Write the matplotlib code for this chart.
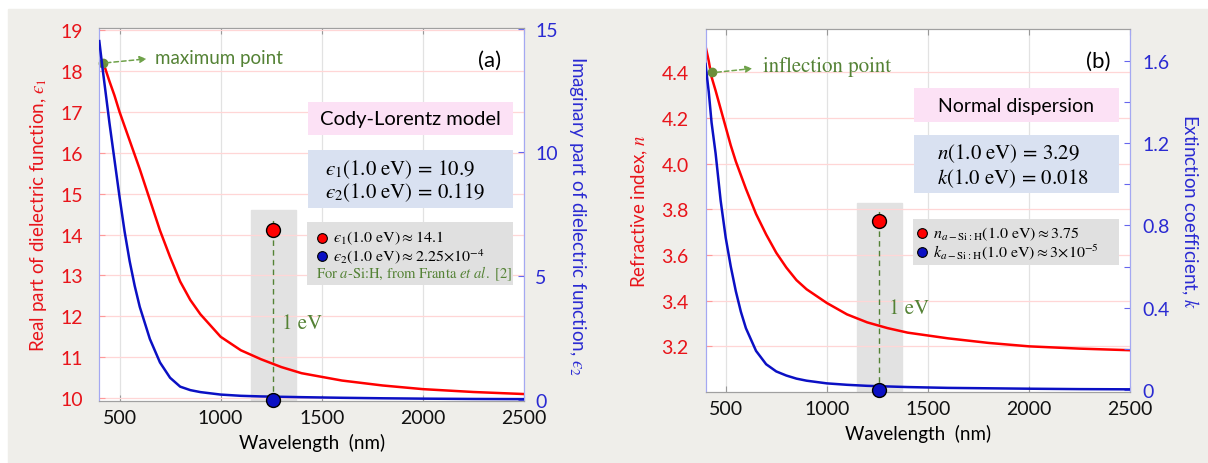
import numpy as np
import matplotlib
matplotlib.use('Agg')
import matplotlib.pyplot as plt
from matplotlib.patches import Rectangle
from matplotlib.ticker import FormatStrFormatter

plt.rcParams['font.family'] = ['Lato', 'DejaVu Sans']
plt.rcParams['mathtext.fontset'] = 'stix'

# ---- data ----
wl = [400, 416, 430, 450, 475, 500, 525, 550, 575, 600, 650, 700, 750, 800, 850,
      900, 1000, 1100, 1200, 1300, 1400, 1600, 1800, 2000, 2250, 2500]
eps1 = [18.1, 18.2, 18.05, 17.75, 17.4, 17.0, 16.65, 16.3, 15.95, 15.6, 14.85, 14.1, 13.45,
        12.85, 12.4, 12.05, 11.5, 11.17, 10.95, 10.76, 10.61, 10.43, 10.31, 10.22, 10.15, 10.1]
eps2 = [14.5, 13.4, 12.5, 11.2, 9.7, 8.2, 6.8, 5.6, 4.6, 3.75, 2.45, 1.5, 0.88, 0.52, 0.38,
        0.3, 0.2, 0.15, 0.125, 0.11, 0.095, 0.07, 0.05, 0.035, 0.022, 0.015]
n_idx = [4.515, 4.45, 4.38, 4.32, 4.24, 4.16, 4.08, 4.01, 3.95, 3.89, 3.78, 3.69, 3.61,
         3.545, 3.49, 3.45, 3.39, 3.34, 3.305, 3.28, 3.26, 3.235, 3.215, 3.20, 3.19, 3.183]
k_ext = [1.585, 1.45, 1.3, 1.15, 0.92, 0.74, 0.6, 0.48, 0.38, 0.30, 0.19, 0.125, 0.09,
         0.07, 0.055, 0.045, 0.032, 0.025, 0.02, 0.017, 0.014, 0.01, 0.008, 0.006, 0.004, 0.003]

wl_1ev = 1257
span_1ev = (1150, 1372)
ref_a = (14.1, 2.25e-4)     # Franta a-Si:H eps1, eps2
ref_b = (3.75, 3e-5)        # a-Si:H n, k
max_pt = (416, 18.2)
infl_pt = (434, 4.4)

RED = '#ff0000'
BLUE = '#0b10c4'
RED_T = '#e8141a'
BLUE_T = '#2a2ad2'
GREEN = '#548235'
EPS = 'ϵ'

fig = plt.figure(figsize=(12.08, 4.64), dpi=100)
fig.patches.append(Rectangle((8 / 1208, 0), 1, 1 - 10 / 464, transform=fig.transFigure,
                             color='#efeeea', zorder=-10))


def panel(rect, y1, y2, ylim1, ylim2, yt1, yt2, yt2_lab, ylab1, ylab2, lp1, lp2, rlp):
    ax = fig.add_axes(rect)
    ax.set_facecolor('white')
    ax2 = ax.twinx()
    ax.plot(wl, y1, color=RED, lw=1.8, zorder=3)
    ax2.plot(wl, y2, color=BLUE, lw=1.8, zorder=3)
    ax.set_xlim(400, 2500)
    ax.set_ylim(*ylim1)
    ax2.set_ylim(*ylim2)
    ax.set_xticks([500, 1000, 1500, 2000, 2500])
    ax.set_yticks(yt1)
    ax2.set_yticks(yt2)
    ax2.set_yticklabels(yt2_lab)
    ax.grid(axis='y', color='#ffd6d6', lw=0.9)
    ax.grid(axis='x', color='#e2e2e2', lw=0.9)
    ax.tick_params(axis='x', direction='in', top=True, color='#999999', length=4,
                   labelsize=14, pad=6, labelcolor='#111111')
    ax.tick_params(axis='y', direction='in', color='#ff9999', length=4, labelsize=14,
                   labelcolor=RED_T, pad=lp1)
    ax2.tick_params(axis='y', direction='in', color='#6666ee', length=4, labelsize=14,
                    labelcolor=BLUE_T, pad=lp2)
    for a in (ax, ax2):
        a.spines['left'].set_color('#a4a8f2')
        a.spines['right'].set_color('#a4a8f2')
        a.spines['top'].set_color('#a0a0a0')
        a.spines['bottom'].set_color('#a0a0a0')
    ax.set_xlabel('Wavelength  (nm)', fontsize=13.5, labelpad=5)
    ax.set_ylabel(ylab1, color=RED_T, fontsize=13.5, labelpad=8)
    ax2.set_ylabel(ylab2, color=BLUE_T, fontsize=13.5, rotation=270, labelpad=rlp)
    return ax, ax2


def box(ax, x0, x1, y0, y1, color):
    ax.add_patch(Rectangle((x0, y0), x1 - x0, y1 - y0, transform=ax.transAxes,
                           facecolor=color, edgecolor='none', zorder=5))


def one_ev(ax, ax2, span_top, line_top, ref1, ref2, lab_xy):
    ax.axvspan(*span_1ev, ymin=0, ymax=span_top, color='#e2e2e2', zorder=1)
    ax.axvline(wl_1ev, ymin=0, ymax=line_top, color=GREEN, lw=1, ls=(0, (4, 3)), zorder=2)
    ax.plot(wl_1ev, ref1, 'o', ms=10, mfc=RED, mec='k', mew=1, zorder=6)
    ax2.plot(wl_1ev, ref2, 'o', ms=10, mfc=BLUE, mec='k', mew=1, zorder=6, clip_on=False)
    ax.text(lab_xy[0], lab_xy[1], '1 eV', transform=ax.transAxes, color=GREEN,
            fontsize=15, family='STIXGeneral', va='center', zorder=6)


# ---------------- panel (a) ----------------
axa, axa2 = panel([99.3 / 1208, 1 - 402 / 464, 424.7 / 1208, 373 / 464],
                  eps1, eps2, (9.93, 19.05), (-0.06, 15.03),
                  range(10, 20), [0, 5, 10, 15], ['0', '5', '10', '15'],
                  r'Real part of dielectric function, $' + EPS + '_1$',
                  r'Imaginary part of dielectric function, $' + EPS + '_2$', 12, 8, 22)
one_ev(axa, axa2, 0.512, 0.493, ref_a[0], ref_a[1], (0.43, 0.21))

axa.plot(*max_pt, 'o', ms=6, color='#6b8e3a', zorder=7, clip_on=False)
axa.annotate('', xy=(0.118, 0.918), xytext=(0.01, 0.906), xycoords='axes fraction',
             arrowprops=dict(arrowstyle='-|>', color='#6fa24a', lw=1.1, ls=(0, (3, 2)),
                             mutation_scale=10), zorder=7)
axa.text(0.13, 0.92, 'maximum point', transform=axa.transAxes, color=GREEN,
         fontsize=13.5, va='center')
axa.text(0.918, 0.915, '(a)', transform=axa.transAxes, fontsize=16, ha='center',
         va='center')

box(axa2, 0.491, 0.974, 0.713, 0.8016, '#fce1f5')
axa2.text(0.7326, 0.757, 'Cody-Lorentz model', transform=axa2.transAxes, fontsize=14.5,
          ha='center', va='center', zorder=6)
box(axa2, 0.491, 0.974, 0.5166, 0.6737, '#d9e1f1')
axa2.text(0.531, 0.624, '$' + EPS + r'_1(1.0\ \mathrm{eV})\, =\, 10.9$',
          transform=axa2.transAxes, fontsize=15, va='center', zorder=6)
axa2.text(0.531, 0.561, '$' + EPS + r'_2(1.0\ \mathrm{eV})\, =\, 0.119$',
          transform=axa2.transAxes, fontsize=15, va='center', zorder=6)
box(axa2, 0.489, 0.974, 0.311, 0.479, '#e0e0e0')
axa2.plot(0.524, 0.438, 'o', ms=7, mfc=RED, mec='k', mew=0.8, transform=axa2.transAxes,
          zorder=6)
axa2.plot(0.524, 0.389, 'o', ms=7, mfc=BLUE, mec='k', mew=0.8, transform=axa2.transAxes,
          zorder=6)
axa2.text(0.55, 0.438, '$' + EPS + r'_1(1.0\ \mathrm{eV}) \approx 14.1$',
          transform=axa2.transAxes, fontsize=11.5, va='center', zorder=6)
axa2.text(0.55, 0.389, '$' + EPS + r'_2(1.0\ \mathrm{eV}) \approx 2.25{\times}10^{-4}$',
          transform=axa2.transAxes, fontsize=11.5, va='center', zorder=6)
axa2.text(0.51, 0.344, r'For $a$-Si:H, from Franta $et$ $al.$ [2]', transform=axa2.transAxes,
          fontsize=10.5, va='center', color=GREEN, family='STIXGeneral', zorder=6)

# ---------------- panel (b) ----------------
axb, axb2 = panel([705.5 / 1208, 1 - 393 / 464, 424.5 / 1208, 363 / 464],
                  n_idx, k_ext, (3.0, 4.59), (-0.01, 1.755),
                  [3.2, 3.4, 3.6, 3.8, 4.0, 4.2, 4.4], np.arange(0, 1.61, 0.2),
                  ['0', '', '0.4', '', '0.8', '', '1.2', '', '1.6'],
                  r'Refractive index, $n$', r'Extinction coefficient, $k$', 12, 9, 22)
axb.yaxis.set_major_formatter(FormatStrFormatter('%.1f'))
one_ev(axb, axb2, 0.521, 0.504, ref_b[0], ref_b[1], (0.432, 0.23))

axb.plot(*infl_pt, 'o', ms=6, color='#6b8e3a', zorder=7, clip_on=False)
axb.annotate('', xy=(0.117, 0.892), xytext=(0.02, 0.88), xycoords='axes fraction',
             arrowprops=dict(arrowstyle='-|>', color='#6fa24a', lw=1.1, ls=(0, (3, 2)),
                             mutation_scale=10), zorder=7)
axb.text(0.135, 0.898, 'inflection point', transform=axb.transAxes, color=GREEN,
         fontsize=15, va='center', family='STIXGeneral')
axb.text(0.925, 0.913, '(b)', transform=axb.transAxes, fontsize=16, ha='center',
         va='center')

box(axb2, 0.491, 0.9736, 0.7446, 0.8366, '#fce1f5')
axb2.text(0.732, 0.79, 'Normal dispersion', transform=axb2.transAxes, fontsize=14,
          ha='center', va='center', zorder=6)
box(axb2, 0.491, 0.9736, 0.547, 0.708, '#d9e1f1')
axb2.text(0.545, 0.658, r'$n(1.0\ \mathrm{eV})\, =\, 3.29$', transform=axb2.transAxes,
          fontsize=15, va='center', zorder=6)
axb2.text(0.545, 0.591, r'$k(1.0\ \mathrm{eV})\, =\, 0.018$', transform=axb2.transAxes,
          fontsize=15, va='center', zorder=6)
box(axb2, 0.489, 0.9736, 0.35, 0.4766, '#e0e0e0')
axb2.plot(0.511, 0.437, 'o', ms=7, mfc=RED, mec='k', mew=0.8, transform=axb2.transAxes,
          zorder=6)
axb2.plot(0.511, 0.387, 'o', ms=7, mfc=BLUE, mec='k', mew=0.8, transform=axb2.transAxes,
          zorder=6)
axb2.text(0.535, 0.437, r'$n_{a-\mathrm{Si:H}}(1.0\ \mathrm{eV}) \approx 3.75$',
          transform=axb2.transAxes, fontsize=11.5, va='center', zorder=6)
axb2.text(0.535, 0.387, r'$k_{a-\mathrm{Si:H}}(1.0\ \mathrm{eV}) \approx 3{\times}10^{-5}$',
          transform=axb2.transAxes, fontsize=11.5, va='center', zorder=6)

fig.savefig('out.png', dpi=100)
